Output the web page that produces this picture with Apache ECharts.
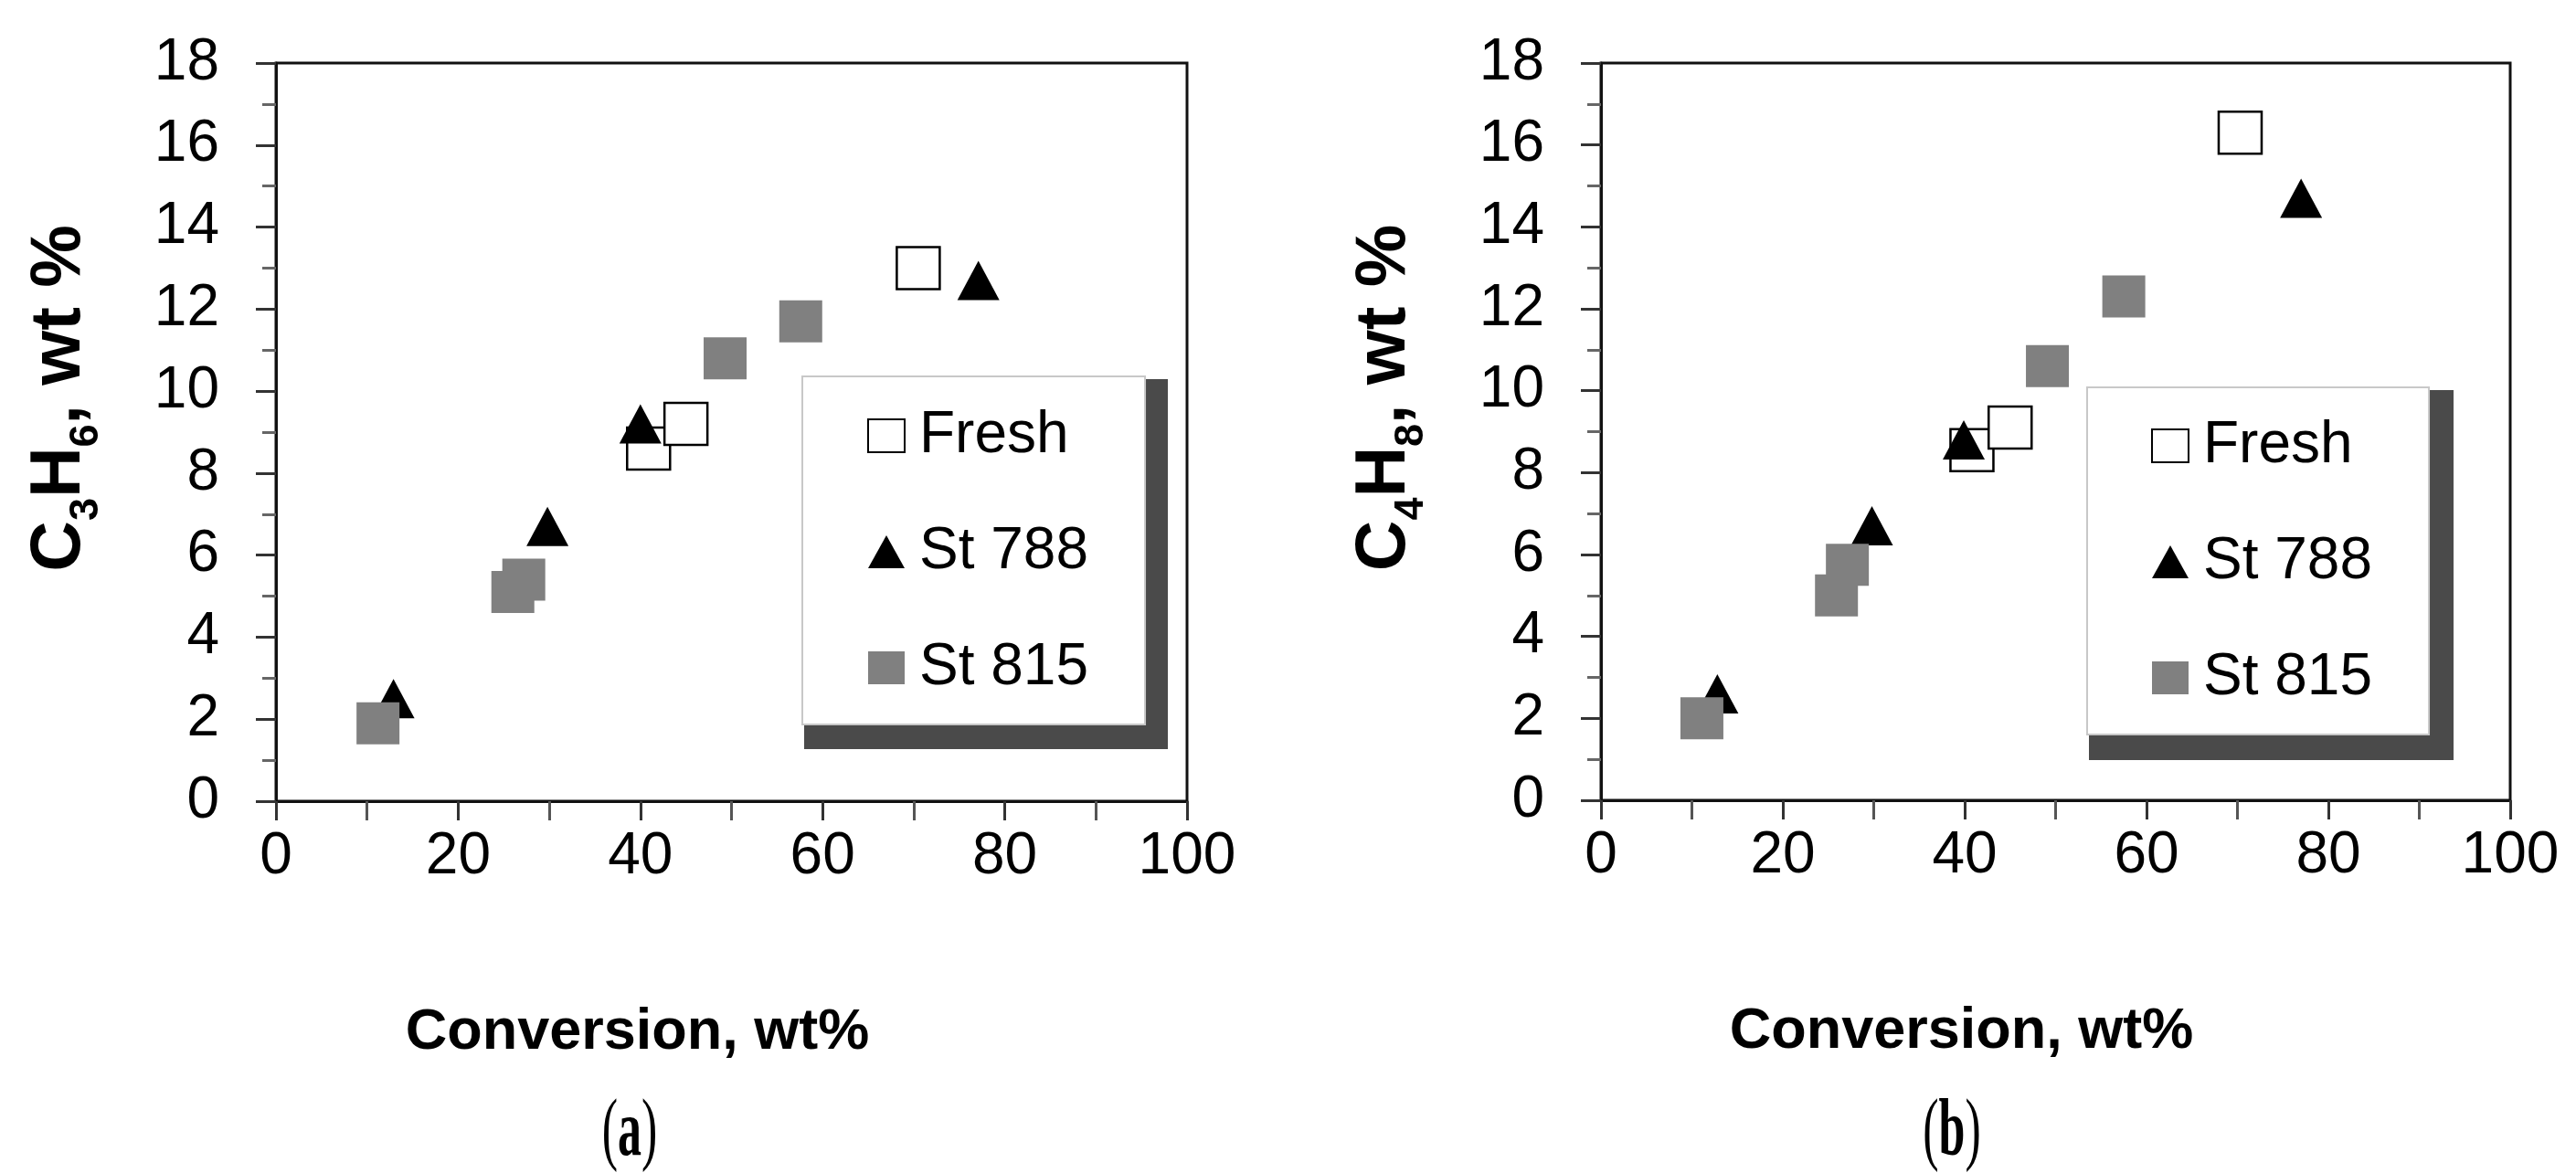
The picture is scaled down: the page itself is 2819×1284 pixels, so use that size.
<!DOCTYPE html>
<html><head><meta charset="utf-8">
<script src="https://cdn.jsdelivr.net/npm/echarts@6/dist/echarts.min.js"></script>
<style>html,body{margin:0;padding:0;background:#fff}#c{width:2819px;height:1284px}</style>
</head><body><div id="c"></div>
<script>
// ---- data ----
const xTicks = [0, 20, 40, 60, 80, 100];
const yTicks = [0, 2, 4, 6, 8, 10, 12, 14, 16, 18];
const seriesNames = ['Fresh', 'St 788', 'St 815'];
// Panel (a): C3H6 yield vs conversion
const freshA = [[40.9, 8.6], [45.0, 9.2], [70.5, 13.0]];
const st788A = [[12.9, 2.5], [29.8, 6.7], [40.0, 9.2], [77.1, 12.7]];
const st815A = [[11.2, 1.9], [26.0, 5.1], [27.2, 5.4], [49.3, 10.8], [57.6, 11.7]];
// Panel (b): C4H8 yield vs conversion
const freshB = [[40.8, 8.55], [45.0, 9.1], [70.3, 16.3]];
const st788B = [[12.8, 2.6], [29.8, 6.7], [39.9, 8.8], [77.0, 14.7]];
const st815B = [[11.1, 2.0], [25.9, 5.0], [27.1, 5.75], [49.1, 10.6], [57.5, 12.3]];
const xTitle = 'Conversion, wt%';
const yTitleA = '{m|C}{s|3}{m|H}{s|6}{m|, wt %}';
const yTitleB = '{m|C}{s|4}{m|H}{s|8}{m|, wt %}';
const captionLetters = ['a', 'b'];

const FONT = '"Liberation Sans", Arial, sans-serif';
const SERIF = '"Liberation Serif", "Times New Roman", serif';
const chart = echarts.init(document.getElementById('c'), null, {renderer: 'canvas'});

const grids = [
  {left: 302, top: 69, width: 997, height: 808},
  {left: 1752, top: 69, width: 995, height: 807}
];

function xAxis(gi) {
  return {
    type: 'value', gridIndex: gi,
    min: xTicks[0], max: xTicks[xTicks.length - 1], interval: xTicks[1] - xTicks[0],
    name: xTitle, nameLocation: 'middle', nameGap: 222,
    nameTextStyle: {fontFamily: FONT, fontWeight: 'bold', fontSize: 63, color: '#000', lineHeight: 63, padding: [0, 206, 0, 0]},
    axisLine: {show: true, onZero: false, lineStyle: {color: '#111', width: 3}},
    axisTick: {show: true, inside: false, length: 21, lineStyle: {color: '#333', width: 3}},
    minorTick: {show: true, splitNumber: 2, length: 21, lineStyle: {color: '#555', width: 3}},
    axisLabel: {fontFamily: FONT, fontSize: 64, color: '#000', margin: 29},
    splitLine: {show: false}
  };
}
function yAxis(gi, title) {
  return {
    type: 'value', gridIndex: gi,
    min: yTicks[0], max: yTicks[yTicks.length - 1], interval: yTicks[1] - yTicks[0],
    name: title, nameLocation: 'middle', nameGap: 185, nameRotate: 90,
    nameTextStyle: {
      color: '#000', fontFamily: FONT, fontWeight: 'bold', fontSize: 77,
      padding: [0, 0, 0, 74],
      rich: {
        m: {fontFamily: FONT, fontWeight: 'bold', fontSize: 77, color: '#000'},
        s: {fontFamily: FONT, fontWeight: 'bold', fontSize: 45, color: '#000', padding: [58, 0, 0, 0]}
      }
    },
    axisLine: {show: true, onZero: false, lineStyle: {color: '#111', width: 3}},
    axisTick: {show: true, inside: false, length: 22, lineStyle: {color: '#333', width: 3}},
    minorTick: {show: true, splitNumber: 2, length: 15, lineStyle: {color: '#666', width: 3}},
    axisLabel: {fontFamily: FONT, fontSize: 64, color: '#000', margin: 62},
    splitLine: {show: false}
  };
}
function series(gi, fresh, s788, s815) {
  return [
    {name: seriesNames[0], type: 'scatter', xAxisIndex: gi, yAxisIndex: gi, data: fresh,
     symbol: 'rect', symbolSize: [47, 46],
     itemStyle: {color: '#fff', borderColor: '#000', borderWidth: 2.5, opacity: 1}},
    {name: seriesNames[1], type: 'scatter', xAxisIndex: gi, yAxisIndex: gi, data: s788,
     symbol: 'triangle', symbolSize: [46, 43],
     itemStyle: {color: '#000', opacity: 1}},
    {name: seriesNames[2], type: 'scatter', xAxisIndex: gi, yAxisIndex: gi, data: s815,
     symbol: 'rect', symbolSize: [47, 46],
     itemStyle: {color: '#808080', opacity: 1}}
  ];
}
function legend(left, top, padding) {
  return {
    show: true, orient: 'vertical', left: left, top: top, padding: padding,
    itemWidth: 40, itemHeight: 36, itemGap: 63, selectedMode: false, z: 10,
    backgroundColor: '#fff', borderColor: '#c8c8c8', borderWidth: 2,
    textStyle: {fontFamily: FONT, fontSize: 64, lineHeight: 64, color: '#000', padding: [0, 0, 0, 11]},
    data: seriesNames
  };
}
function caption(x, letter) {
  return {type: 'text', x: x, y: 1241, scaleY: 1.7, z: 5, style: {
    text: '{p|(}{b|' + letter + '}{p|)}', align: 'center', verticalAlign: 'middle', textAlign: 'center', textVerticalAlign: 'middle',
    rich: {p: {fontFamily: SERIF, fontSize: 52, fill: '#000', color: '#000'},
           b: {fontFamily: SERIF, fontSize: 52, fontWeight: 'bold', fill: '#000', color: '#000'}}}};
}

const option = {
  backgroundColor: '#fff',
  animation: false,
  grid: grids.map(g => Object.assign({show: true, borderColor: '#111', borderWidth: 3, backgroundColor: 'transparent', containLabel: false}, g)),
  xAxis: [xAxis(0), xAxis(1)],
  yAxis: [yAxis(0, yTitleA), yAxis(1, yTitleB)],
  legend: [legend(878, 412, [33, 62, 30, 71]), legend(2284, 424, [32, 62, 30, 70])],
  graphic: [
    {type: 'rect', z: 5, shape: {x: 880, y: 415, width: 398, height: 405}, style: {fill: '#4a4a4a'}},
    {type: 'rect', z: 5, shape: {x: 2286, y: 427, width: 399, height: 405}, style: {fill: '#4a4a4a'}},
    caption(689, captionLetters[0]),
    caption(2136, captionLetters[1])
  ],
  series: [].concat(series(0, freshA, st788A, st815A), series(1, freshB, st788B, st815B))
};
chart.setOption(option);
</script>
</body></html>
